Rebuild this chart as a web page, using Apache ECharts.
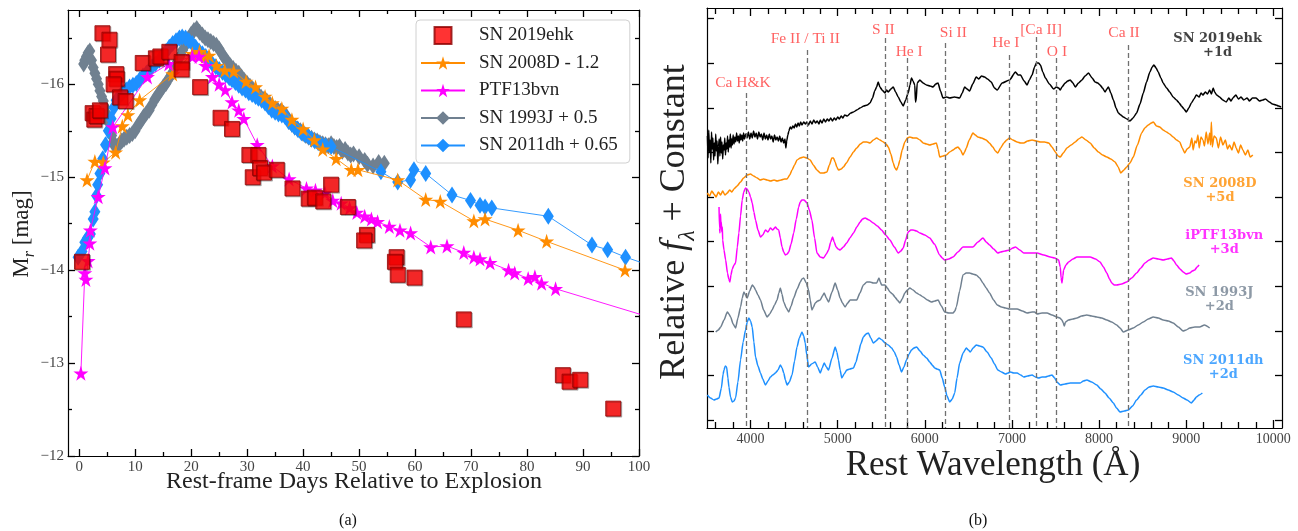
<!DOCTYPE html>
<html><head><meta charset="utf-8">
<script src="https://cdn.jsdelivr.net/npm/echarts@6/dist/echarts.min.js"></script>
<style>html,body{margin:0;padding:0;background:#fff}#c{width:1298px;height:531px}</style>
</head><body><div id="c"></div>
<script>
// ---------------- Panel (a): light curves (day, M_r) ----------------
const sn2019ehk = [[0.5,-14.09],[2.4,-15.69],[2.7,-15.62],[3.1,-15.66],[3.7,-15.72],[4.15,-16.55],[5.4,-16.48],[5.15,-16.32],[6.6,-16.11],[6.7,-16.06],[6.15,-16.0],[7.3,-15.86],[8.3,-15.82],[11.35,-16.23],[13.7,-16.28],[14.5,-16.3],[16.1,-16.35],[18.3,-16.24],[18.3,-16.16],[21.6,-15.97],[25.25,-15.64],[27.3,-15.52],[30.4,-15.24],[32,-15.24],[31,-15.0],[32.3,-15.1],[33,-15.05],[35.3,-15.08],[38.1,-14.88],[41,-14.77],[42.1,-14.78],[43.6,-14.74],[45,-14.92],[48,-14.68],[51.4,-14.38],[50.9,-14.32],[56.7,-14.14],[56.4,-14.09],[56.9,-13.95],[59.9,-13.92],[68.7,-13.47],[86.4,-12.87],[87.6,-12.8],[89.5,-12.82],[95.4,-12.51]];
const sn2008D = [[1.4,-14.97],[2.8,-15.17],[4.3,-15.16],[6.5,-15.27],[7.7,-15.55],[8.7,-15.67],[10.8,-15.83],[16.7,-16.11],[20.2,-16.33],[21.5,-16.35],[22.5,-16.3],[23.2,-16.31],[24.5,-16.2],[26,-16.15],[27.6,-16.14],[29.8,-16.03],[31.5,-15.97],[33.2,-15.87],[34.5,-15.8],[36.2,-15.74],[38,-15.62],[40,-15.52],[42,-15.4],[43.5,-15.3],[45.9,-15.2],[48.6,-15.08],[49.8,-15.08],[56.9,-14.97],[61.9,-14.76],[64.5,-14.74],[70.5,-14.53],[72.5,-14.55],[78.4,-14.43],[83.5,-14.31],[97.5,-14.0]];
const ptf13bvn = [[0.3,-12.89],[1.0,-13.97],[1.2,-13.9],[1.6,-14.1],[1.9,-14.29],[2.0,-14.43],[3.4,-14.79],[4.6,-15.1],[6.0,-15.54],[12.2,-16.08],[16,-16.22],[20.2,-16.3],[21.4,-16.3],[22.6,-16.2],[23.8,-16.08],[25,-16.0],[26.1,-15.94],[27.3,-15.81],[28.5,-15.72],[29.4,-15.63],[31.8,-15.35],[34.5,-15.12],[37.5,-14.98],[40.6,-14.88],[42.2,-14.86],[43.9,-14.83],[45.3,-14.75],[46.8,-14.72],[48.3,-14.67],[49.6,-14.62],[51,-14.58],[52.2,-14.55],[53.3,-14.52],[55.4,-14.47],[57.3,-14.43],[59.2,-14.4],[62.8,-14.25],[65.7,-14.26],[68.7,-14.19],[70.5,-14.14],[71.6,-14.12],[73.4,-14.08],[76.7,-14.0],[77.8,-13.97],[80.2,-13.91],[81.4,-13.93],[82.6,-13.86],[85.1,-13.8],[112,-13.31]];
const sn1993J = [[0.8,-16.22],[1.0,-16.26],[1.3,-16.3],[1.6,-16.34],[1.9,-16.36],[2.2,-16.26],[2.5,-16.18],[2.8,-16.12],[3.1,-16.06],[3.4,-16.0],[3.7,-15.93],[4.0,-15.87],[4.3,-15.82],[4.6,-15.75],[4.9,-15.68],[5.2,-15.6],[5.5,-15.52],[5.8,-15.45],[6.1,-15.38],[6.4,-15.33],[6.8,-15.33],[7.2,-15.36],[7.6,-15.39],[8.0,-15.41],[8.5,-15.43],[9.0,-15.45],[9.5,-15.47],[10,-15.5],[10.5,-15.56],[11,-15.6],[11.5,-15.65],[12,-15.69],[12.5,-15.72],[13,-15.78],[13.5,-15.84],[14,-15.88],[14.5,-15.93],[15,-15.97],[15.5,-16.01],[16,-16.06],[16.5,-16.11],[17,-16.17],[17.5,-16.24],[18,-16.3],[18.5,-16.37],[19,-16.43],[19.5,-16.49],[20,-16.54],[20.5,-16.58],[21,-16.6],[21.5,-16.56],[22,-16.53],[22.5,-16.5],[23,-16.48],[23.5,-16.46],[24,-16.44],[24.5,-16.42],[25,-16.38],[25.5,-16.33],[26,-16.28],[26.5,-16.24],[27,-16.2],[27.5,-16.17],[28,-16.14],[28.5,-16.12],[29,-16.08],[29.5,-16.04],[30,-16.01],[30.5,-15.98],[31,-15.95],[31.5,-15.92],[32,-15.89],[32.5,-15.86],[33,-15.84],[33.5,-15.82],[34,-15.79],[34.5,-15.76],[35,-15.74],[35.5,-15.72],[36,-15.71],[36.5,-15.69],[37,-15.66],[37.5,-15.6],[38,-15.57],[38.5,-15.54],[39,-15.52],[39.5,-15.5],[40,-15.47],[40.5,-15.45],[41,-15.43],[41.5,-15.42],[42,-15.4],[42.5,-15.39],[43,-15.37],[43.5,-15.36],[44,-15.35],[44.5,-15.34],[45,-15.36],[45.5,-15.33],[46,-15.32],[46.5,-15.33],[47,-15.28],[47.5,-15.3],[48,-15.26],[48.5,-15.24],[49,-15.25],[50,-15.22],[51,-15.18],[51.5,-15.14],[52.5,-15.12],[53.5,-15.16],[54.5,-15.15]];
const sn2011dh = [[-0.2,-14.14],[0.5,-14.2],[1.0,-14.3],[1.5,-14.35],[2.0,-14.39],[2.5,-14.55],[2.8,-14.63],[3.1,-14.8],[3.3,-14.92],[3.7,-15.04],[4.2,-15.2],[4.7,-15.35],[5.2,-15.5],[5.7,-15.63],[6.2,-15.75],[6.6,-15.83],[7.2,-15.87],[7.8,-15.91],[8.4,-15.94],[9,-15.97],[9.6,-15.99],[10.2,-16.01],[10.8,-16.05],[11.4,-16.09],[12,-16.12],[12.5,-16.15],[13,-16.19],[13.6,-16.22],[14.3,-16.26],[14.9,-16.31],[15.5,-16.35],[16.1,-16.4],[16.7,-16.44],[17.3,-16.47],[17.9,-16.5],[18.4,-16.51],[19,-16.5],[19.6,-16.47],[20.2,-16.44],[20.8,-16.4],[21.4,-16.36],[22,-16.33],[22.6,-16.3],[23.2,-16.26],[23.8,-16.22],[24.4,-16.19],[25,-16.16],[25.6,-16.13],[26.2,-16.1],[26.8,-16.07],[27.3,-16.05],[27.9,-16.02],[28.5,-15.99],[29.1,-15.96],[29.7,-15.94],[30.3,-15.91],[30.9,-15.89],[31.5,-15.87],[32,-15.85],[32.6,-15.83],[33.2,-15.8],[33.8,-15.76],[34.4,-15.72],[35,-15.7],[35.6,-15.68],[36.2,-15.67],[36.8,-15.65],[37.4,-15.6],[38,-15.57],[38.5,-15.54],[39.1,-15.51],[39.7,-15.48],[40.3,-15.46],[40.9,-15.44],[41.5,-15.41],[42.1,-15.39],[42.7,-15.37],[43.3,-15.35],[44,-15.34],[45,-15.33],[53.9,-15.06],[56.9,-14.95],[59.2,-14.97],[59.8,-15.08],[61.9,-15.04],[66.6,-14.81],[69.9,-14.75],[71.6,-14.7],[72.5,-14.68],[73.7,-14.67],[83.8,-14.58],[91.6,-14.27],[94.4,-14.22],[97.6,-14.14],[101.5,-14.06]];

// ---------------- Panel (b): spectra (wavelength in Å, relative flux + constant) ----------------
const spec2019ehk = [[3505,292],[3512,270],[3520,298],[3528,276],[3536,288],[3544,265],[3552,296],[3560,279],[3568,290],[3576,268],[3584,285],[3592,272],[3600,294],[3608,277],[3616,287],[3624,264],[3632,281],[3640,289],[3648,272],[3656,291],[3664,275],[3672,286],[3680,269],[3688,283],[3696,278],[3704,290],[3712,273],[3720,285],[3728,279],[3736,292],[3744,276],[3752,288],[3760,281],[3768,294],[3776,280],[3784,289],[3792,283],[3800,293],[3810,284],[3820,291],[3830,286],[3840,295],[3850,287],[3860,292],[3870,285],[3880,294],[3890,288],[3900,293],[3910,287],[3920,295],[3930,289],[3945,294],[3960,290],[3975,296],[3990,289],[4005,295],[4020,290],[4035,297],[4050,291],[4065,295],[4080,289],[4095,296],[4110,291],[4125,294],[4140,288],[4155,295],[4170,289],[4185,293],[4200,288],[4215,294],[4230,289],[4245,292],[4260,286],[4275,293],[4290,288],[4305,291],[4320,287],[4335,292],[4350,286],[4365,290],[4380,285],[4395,289],[4405,280],[4415,287],[4428,293],[4440,297],[4455,301],[4470,299],[4485,302],[4500,300],[4515,304],[4530,301],[4545,305],[4560,302],[4575,306],[4590,303],[4610,306],[4630,304],[4647,306],[4665,303],[4685,307],[4705,304],[4725,308],[4745,305],[4765,307],[4785,304],[4800,308],[4820,305],[4840,309],[4860,306],[4880,309],[4900,307],[4920,310],[4940,307],[4960,310],[4980,308],[5000,311],[5020,309],[5040,312],[5060,310],[5080,313],[5110,312],[5150,315],[5181,316],[5220,318],[5257,320],[5300,322],[5340,323],[5371,325],[5400,330],[5425,337],[5447,341],[5465,346],[5485,341],[5510,338],[5543,335],[5560,338],[5581,336],[5610,339],[5638,341],[5665,336],[5695,331],[5725,326],[5752,322],[5780,328],[5809,335],[5830,343],[5847,350],[5865,347],[5885,343],[5893,326],[5900,327],[5913,345],[5943,348],[5980,345],[6019,343],[6060,342],[6095,341],[6125,344],[6152,345],[6180,337],[6209,330],[6250,331],[6286,330],[6340,331],[6400,330],[6430,335],[6457,341],[6485,339],[6514,337],[6550,344],[6590,351],[6620,349],[6650,352],[6686,351],[6720,349],[6762,346],[6800,340],[6831,338],[6888,345],[6972,348],[7041,356],[7070,353],[7098,353],[7140,347],[7174,343],[7200,348],[7231,353],[7260,361],[7281,365],[7305,365],[7327,363],[7355,356],[7384,350],[7430,344],[7479,339],[7510,341],[7536,340],[7555,338],[7574,341],[7612,345],[7640,347],[7669,348],[7700,345],[7727,341],[7765,345],[7803,348],[7840,352],[7879,355],[7920,350],[7955,346],[7985,345],[8012,343],[8040,340],[8069,336],[8090,339],[8108,341],[8135,335],[8165,328],[8195,320],[8222,315],[8250,313],[8279,311],[8320,309],[8355,307],[8390,310],[8431,315],[8470,324],[8508,335],[8545,346],[8584,356],[8610,361],[8630,363],[8655,360],[8679,356],[8710,350],[8736,345],[8775,340],[8812,336],[8850,331],[8889,328],[8920,325],[8946,322],[8975,319],[9003,316],[9030,320],[9060,325],[9090,329],[9117,333],[9150,331],[9170,335],[9193,333],[9220,336],[9245,334],[9270,338],[9290,334],[9310,340],[9327,336],[9350,333],[9384,331],[9420,328],[9460,326],[9490,330],[9515,327],[9536,330],[9570,333],[9600,329],[9630,331],[9660,328],[9700,330],[9727,327],[9760,330],[9803,330],[9840,327],[9879,328],[9910,329],[9955,326],[9990,324],[10032,323],[10060,322],[10089,321]];
const spec2008D = [[3504,235],[3530,232],[3555,237],[3580,234],[3605,231],[3630,236],[3657,233],[3680,237],[3705,233],[3733,235],[3760,238],[3785,236],[3809,239],[3845,242],[3885,246],[3920,250],[3961,253],[3999,254],[4035,252],[4076,250],[4110,248],[4150,249],[4190,248],[4230,247],[4270,248],[4304,247],[4350,248],[4390,249],[4419,249],[4450,253],[4476,258],[4505,263],[4533,268],[4570,270],[4609,271],[4645,270],[4685,268],[4720,263],[4762,258],[4800,255],[4838,255],[4876,256],[4905,263],[4933,270],[4952,270],[4971,266],[4990,261],[5009,258],[5040,259],[5066,261],[5100,265],[5143,271],[5180,276],[5219,280],[5260,284],[5295,286],[5335,286],[5371,285],[5410,288],[5447,290],[5485,288],[5524,286],[5555,284],[5581,281],[5610,274],[5638,265],[5657,260],[5676,258],[5695,262],[5714,268],[5740,278],[5771,286],[5800,290],[5828,291],[5866,290],[5905,290],[5945,288],[5981,285],[6020,284],[6057,283],[6095,284],[6133,285],[6152,279],[6171,271],[6209,272],[6247,273],[6286,276],[6324,278],[6355,280],[6381,281],[6410,278],[6438,273],[6457,276],[6476,280],[6510,288],[6552,295],[6580,293],[6609,291],[6650,290],[6705,288],[6740,285],[6781,281],[6810,277],[6838,275],[6870,280],[6907,285],[6940,288],[6972,290],[7010,288],[7060,286],[7100,285],[7136,285],[7180,287],[7231,288],[7280,287],[7327,286],[7375,286],[7422,285],[7460,281],[7498,276],[7530,272],[7555,271],[7590,275],[7631,280],[7680,283],[7727,286],[7765,289],[7803,291],[7850,288],[7898,285],[7945,280],[7993,276],[8040,273],[8089,271],[8135,269],[8184,266],[8220,261],[8249,255],[8285,258],[8317,261],[8355,265],[8393,271],[8440,283],[8489,295],[8525,300],[8565,303],[8600,305],[8622,306],[8660,302],[8698,301],[8735,298],[8774,296],[8810,294],[8851,291],[8890,288],[8927,286],[8955,280],[8984,275],[9010,279],[9041,281],[9065,290],[9080,278],[9100,287],[9117,285],[9135,293],[9150,280],[9170,291],[9193,288],[9210,282],[9230,296],[9250,284],[9270,295],[9280,283],[9289,306],[9300,281],[9320,292],[9346,290],[9370,280],[9395,291],[9422,283],[9450,288],[9475,279],[9498,283],[9525,278],[9550,286],[9574,280],[9600,275],[9625,283],[9651,278],[9680,273],[9708,278],[9735,271],[9765,273]];
const specPTF13bvn = [[3638,221],[3644,200],[3649,195],[3655,214],[3660,203],[3664,206],[3670,196],[3676,201],[3680,188],[3695,178],[3714,168],[3735,155],[3750,149],[3763,146],[3775,153],[3790,159],[3810,163],[3828,165],[3848,181],[3866,195],[3885,212],[3904,228],[3922,236],[3942,240],[3960,239],[3980,236],[4000,231],[4019,225],[4038,216],[4057,208],[4085,198],[4114,191],[4140,193],[4171,198],[4200,196],[4228,200],[4255,198],[4285,201],[4305,199],[4323,198],[4342,190],[4361,181],[4380,176],[4400,173],[4420,174],[4438,176],[4465,184],[4495,195],[4525,209],[4552,221],[4570,226],[4590,228],[4615,228],[4647,225],[4675,218],[4704,208],[4735,190],[4762,175],[4800,171],[4838,170],[4870,174],[4895,178],[4920,186],[4941,191],[4960,186],[4982,181],[5005,179],[5028,178],[5065,181],[5104,185],[5140,190],[5181,195],[5220,201],[5257,206],[5285,209],[5314,210],[5360,208],[5409,205],[5455,202],[5504,198],[5550,193],[5600,188],[5650,181],[5695,175],[5725,177],[5752,180],[5780,188],[5809,196],[5840,198],[5866,198],[5905,197],[5943,195],[6000,193],[6057,190],[6110,184],[6171,173],[6200,170],[6228,168],[6275,169],[6324,171],[6380,176],[6438,181],[6495,181],[6552,181],[6610,186],[6667,190],[6705,186],[6743,183],[6790,179],[6838,175],[6870,176],[6920,177],[6972,178],[7010,180],[7041,181],[7090,178],[7136,175],[7210,175],[7288,175],[7365,173],[7441,171],[7490,170],[7536,168],[7555,161],[7565,150],[7574,145],[7585,152],[7593,158],[7620,163],[7650,166],[7700,169],[7746,171],[7820,171],[7898,171],[7960,169],[8012,166],[8050,161],[8089,155],[8120,149],[8146,145],[8175,143],[8203,143],[8260,144],[8317,146],[8375,150],[8431,155],[8480,160],[8527,165],[8575,168],[8622,170],[8680,169],[8736,168],[8785,169],[8831,170],[8860,167],[8889,163],[8930,159],[8965,156],[9000,154],[9041,155],[9070,157],[9098,158],[9125,161],[9148,163]];
const spec1993J = [[3600,96],[3630,98],[3657,101],[3695,108],[3733,116],[3752,114],[3771,111],[3800,104],[3828,100],[3855,110],[3885,121],[3905,130],[3923,136],[3942,133],[3961,130],[3990,137],[4019,143],[4040,141],[4057,138],[4085,133],[4114,128],[4150,118],[4190,111],[4220,114],[4247,118],[4275,123],[4304,128],[4325,135],[4342,140],[4360,134],[4381,126],[4410,120],[4438,116],[4465,122],[4495,130],[4535,139],[4571,146],[4590,149],[4609,150],[4640,145],[4666,138],[4685,128],[4704,118],[4722,121],[4742,125],[4770,127],[4800,128],[4825,132],[4845,135],[4870,130],[4895,126],[4935,136],[4971,145],[5000,138],[5028,130],[5055,125],[5085,121],[5115,125],[5143,128],[5180,128],[5219,128],[5255,135],[5295,143],[5335,146],[5371,146],[5410,145],[5447,145],[5474,150],[5490,146],[5504,143],[5543,143],[5570,140],[5600,136],[5630,134],[5657,131],[5685,128],[5714,125],[5740,129],[5771,135],[5800,138],[5828,140],[5865,138],[5905,135],[5945,133],[5981,131],[6030,128],[6076,126],[6115,127],[6152,128],[6190,122],[6228,116],[6275,115],[6324,115],[6345,117],[6362,121],[6400,137],[6438,153],[6475,155],[6514,155],[6550,154],[6590,153],[6630,150],[6667,145],[6705,140],[6743,135],[6790,128],[6831,123],[6880,121],[6926,120],[6972,119],[7015,119],[7060,119],[7120,117],[7174,115],[7231,116],[7260,116],[7288,114],[7345,115],[7403,115],[7460,113],[7517,111],[7550,110],[7574,108],[7590,105],[7601,102],[7615,106],[7650,108],[7700,109],[7746,110],[7800,112],[7860,113],[7915,112],[7974,111],[8030,110],[8089,108],[8145,106],[8203,103],[8240,100],[8279,96],[8335,98],[8393,100],[8450,103],[8508,106],[8565,109],[8622,111],[8680,110],[8736,108],[8795,107],[8851,105],[8910,101],[8965,97],[9000,98],[9041,100],[9100,101],[9155,101],[9210,103],[9270,100]];
const spec2011dh = [[3504,33],[3540,30],[3580,28],[3610,29],[3638,30],[3665,40],[3685,54],[3695,58],[3710,62],[3725,61],[3740,50],[3752,41],[3770,31],[3790,26],[3810,27],[3828,30],[3855,46],[3885,68],[3915,86],[3942,98],[3962,106],[3980,110],[4000,107],[4019,101],[4038,86],[4057,71],[4085,62],[4114,55],[4140,49],[4171,43],[4200,47],[4228,51],[4255,53],[4285,55],[4315,58],[4342,63],[4362,60],[4381,55],[4400,48],[4419,43],[4445,46],[4476,53],[4505,67],[4533,81],[4560,90],[4590,96],[4610,92],[4628,85],[4645,73],[4666,61],[4700,64],[4742,66],[4770,61],[4800,55],[4822,60],[4845,65],[4870,61],[4895,58],[4935,70],[4971,81],[4990,76],[5009,68],[5028,58],[5047,50],[5075,54],[5104,58],[5140,59],[5181,60],[5210,66],[5238,75],[5265,84],[5295,91],[5325,94],[5352,95],[5380,90],[5409,85],[5440,87],[5474,90],[5510,88],[5543,85],[5580,83],[5619,80],[5650,76],[5676,71],[5705,63],[5733,56],[5760,61],[5790,68],[5820,74],[5847,78],[5875,80],[5905,81],[5945,77],[5981,73],[6020,70],[6057,66],[6085,63],[6114,60],[6140,59],[6171,58],[6200,50],[6228,41],[6255,32],[6286,26],[6315,29],[6343,35],[6370,50],[6400,65],[6440,75],[6476,80],[6500,78],[6522,76],[6555,80],[6590,83],[6630,82],[6667,81],[6715,76],[6762,70],[6800,64],[6838,58],[6880,56],[6926,54],[6955,55],[6984,56],[7020,55],[7060,55],[7100,53],[7136,51],[7180,52],[7231,53],[7270,51],[7307,50],[7345,51],[7384,51],[7420,52],[7460,53],[7490,50],[7517,46],[7555,43],[7610,44],[7669,45],[7725,45],[7784,45],[7820,47],[7860,48],[7915,46],[7974,43],[8020,39],[8069,35],[8115,30],[8165,25],[8200,20],[8241,16],[8290,17],[8336,18],[8385,22],[8431,28],[8480,33],[8527,38],[8575,41],[8622,42],[8680,41],[8736,40],[8795,38],[8851,36],[8910,33],[8965,30],[9010,28],[9060,25],[9090,28],[9117,31],[9150,33],[9186,35]];

// Line identifications: name, rest wavelength (Å)
const lineNames = ['Ca H&K','Fe II / Ti II','S II','He I','Si II','He I','[Ca II]','O I','Ca II'];
const lineWaves = [3951,4648,5543,5794,6237,6966,7274,7514,8335];
// spectrum labels
const specLabels = ['SN 2019ehk\n+1d','SN 2008D\n+5d','iPTF13bvn\n+3d','SN 1993J\n+2d','SN 2011dh\n+2d'];

// Tick values / labels
const aXTicks = [0,10,20,30,40,50,60,70,80,90,100];
const aXMinor = [5,15,25,35,45,55,65,75,85,95];
const aYTicks = [-16,-15,-14,-13,-12];
const aYMinor = [-16.5,-15.5,-14.5,-13.5,-12.5];
const bXTicks = [4000,5000,6000,7000,8000,9000,10000];
const bXMinor = [3600,3800,4200,4400,4600,4800,5200,5400,5600,5800,6200,6400,6600,6800,7200,7400,7600,7800,8200,8400,8600,8800,9200,9400,9600,9800];
const bYTicks = [8,52.6,97.2,141.8,186.4,231,275.6,320.2,364.8,409.4];

// ---------------- layout / style ----------------
const SERIF = '"Liberation Serif","Times New Roman",serif';
const BOLD = '"DejaVu Serif",serif';
const STAR = 'path://M50,0L61.2,34.5L97.6,34.5L68.2,55.9L79.4,90.5L50,69.1L20.6,90.5L31.8,55.9L2.4,34.5L38.8,34.5Z';
const SQUARE = 'path://M0,0L10,0L10,10L0,10Z';
const C = {ehk:'#ff0000', d08:'#ff8c00', ptf:'#ff00ff', j93:'#708090', dh:'#1e90ff'};
const lineTops = [335,378,390,370,385,373,391,370,383];
const lineLabelPos = [[3912,345],[4628,389],[5524,398],[5821,376],[6328,395],[6930,385],[7334,398],[7517,376],[8287,395]];
const specLabelPos = [[9361,382],[9388,237],[9437,185],[9380,128],[9426,60]];
const specLabelColors = ['#111', C.d08, C.ptf, C.j93, C.dh];

function ax(grid, pos, min, max, ticks, len, withLine, labels, extra) {
  return Object.assign({
    type: 'value', gridIndex: grid, position: pos, min: min, max: max,
    axisLine: {show: withLine, onZero: false, lineStyle: {color: '#000', width: 1.2}},
    axisTick: {show: ticks.length > 0, inside: true, length: len, customValues: ticks, lineStyle: {color: '#000', width: 1.3}},
    axisLabel: labels ? Object.assign({show: true, customValues: ticks}, labels) : {show: false},
    splitLine: {show: false}, minorTick: {show: false}
  }, extra || {});
}
const minusFmt = v => (v < 0 ? '\u2212' : '') + Math.abs(v);
const plainFmt = v => String(v);
const xLabA = {color: '#444', fontFamily: SERIF, fontSize: 15, margin: 4, formatter: plainFmt};
const yLabA = {color: '#444', fontFamily: SERIF, fontSize: 15, margin: 4, formatter: minusFmt};
const xLabB = {color: '#444', fontFamily: SERIF, fontSize: 14, margin: 4, formatter: plainFmt};

const xAxis = [
  ax(0, 'bottom', -2, 100, aXTicks, 7, true, xLabA),
  ax(0, 'bottom', -2, 100, aXMinor, 4, false, null),
  ax(0, 'top', -2, 100, aXTicks, 7, true, null),
  ax(0, 'top', -2, 100, aXMinor, 4, false, null),
  ax(1, 'bottom', 3500, 10100, bXTicks, 8, true, xLabB),
  ax(1, 'bottom', 3500, 10100, bXMinor, 6, false, null),
  ax(1, 'top', 3500, 10100, bXTicks, 8, true, null),
  ax(1, 'top', 3500, 10100, bXMinor, 6, false, null)
];
const yAxis = [
  ax(0, 'left', -16.8, -12, aYTicks, 7, true, yLabA, {inverse: true}),
  ax(0, 'left', -16.8, -12, aYMinor, 4, false, null, {inverse: true}),
  ax(0, 'right', -16.8, -12, aYTicks, 7, true, null, {inverse: true}),
  ax(0, 'right', -16.8, -12, aYMinor, 4, false, null, {inverse: true}),
  ax(1, 'left', 0, 420, bYTicks, 7, true, null),
  ax(1, 'left', 0, 420, [], 0, false, null),
  ax(1, 'right', 0, 420, bYTicks, 7, true, null),
  ax(1, 'right', 0, 420, [], 0, false, null)
];

function lc(name, data, color, symbol, size, z) {
  return {name: name, type: 'line', xAxisIndex: 0, yAxisIndex: 0, data: data, z: z,
    symbol: symbol, symbolSize: size, showSymbol: true,
    itemStyle: {color: color}, lineStyle: {color: color, width: 0.9}};
}
function spec(name, data, color) {
  return {name: name, type: 'line', xAxisIndex: 4, yAxisIndex: 4, data: data, showSymbol: false,
    smooth: 0.2, smoothMonotone: 'x', lineStyle: {color: color, width: 1.5}, itemStyle: {color: color}, z: 3};
}

const series = [
  lc('SN 1993J + 0.5', sn1993J, C.j93, 'diamond', [11, 17], 2),
  lc('SN 2011dh + 0.65', sn2011dh, C.dh, 'diamond', [11, 17], 3),
  lc('SN 2008D - 1.2', sn2008D, C.d08, STAR, 15, 4),
  lc('PTF13bvn', ptf13bvn, C.ptf, STAR, 15, 5),
  {name: 'SN 2019ehk', type: 'scatter', xAxisIndex: 0, yAxisIndex: 0, data: sn2019ehk, z: 6,
    symbol: 'rect', symbolSize: 15,
    itemStyle: {color: C.ehk, borderColor: '#8b0000', borderWidth: 1, shadowColor: 'rgba(0,0,0,0.3)', shadowOffsetX: 1, shadowOffsetY: 1}},
  spec('spec SN 2019ehk', spec2019ehk, '#000'),
  spec('spec SN 2008D', spec2008D, C.d08),
  spec('spec iPTF13bvn', specPTF13bvn, C.ptf),
  spec('spec SN 1993J', spec1993J, C.j93),
  spec('spec SN 2011dh', spec2011dh, C.dh),
  {name: 'line ids', type: 'scatter', xAxisIndex: 4, yAxisIndex: 4, symbolSize: 1, z: 5,
    itemStyle: {color: 'rgba(0,0,0,0)'},
    data: lineNames.map((n, i) => ({name: n, value: lineLabelPos[i]})),
    label: {show: true, position: 'inside', formatter: '{b}', color: '#ff3a3a', fontFamily: SERIF, fontSize: 15.5},
    markLine: {silent: true, symbol: ['none', 'none'], animation: false, label: {show: false},
      lineStyle: {type: [5, 3], color: '#707070', width: 1.3},
      data: lineWaves.map((w, i) => [{coord: [w, lineTops[i]]}, {coord: [w, 0]}])}},
  {name: 'spec labels', type: 'scatter', xAxisIndex: 4, yAxisIndex: 4, symbolSize: 1, z: 5,
    itemStyle: {color: 'rgba(0,0,0,0)'},
    data: specLabels.map((n, i) => ({name: n, value: specLabelPos[i], label: {color: specLabelColors[i]}})),
    label: {show: true, position: 'inside', formatter: '{b}', fontFamily: BOLD, fontWeight: 'bold', fontSize: 13, lineHeight: 14, align: 'center'}}
];

const rich = (size) => ({
  m: {fontFamily: SERIF, fontSize: size, lineHeight: size, verticalAlign: 'top', fill: '#222'},
  i: {fontFamily: SERIF, fontSize: size, lineHeight: size, fontStyle: 'italic', verticalAlign: 'top', fill: '#222'},
  s: {fontFamily: SERIF, fontSize: Math.round(size * 0.68), lineHeight: Math.round(size * 1.2), fontStyle: 'italic', verticalAlign: 'bottom', fill: '#222'}
});

const option = {
  animation: false,
  backgroundColor: '#fff',
  grid: [
    {left: 68, top: 10, width: 571, height: 446},
    {left: 707, top: 8, width: 575, height: 420}
  ],
  xAxis: xAxis, yAxis: yAxis, series: series,
  legend: {
    show: true, orient: 'vertical', left: 416, top: 20, selectedMode: false,
    data: [{name: 'SN 2019ehk', icon: SQUARE}, 'SN 2008D - 1.2', 'PTF13bvn', 'SN 1993J + 0.5', 'SN 2011dh + 0.65'],
    itemWidth: 44, itemHeight: 17, itemGap: 8.5,
    textStyle: {fontFamily: SERIF, fontSize: 19, color: '#222', padding: [0, 0, 0, 9]},
    padding: [6, 12, 8, 4], borderColor: '#d0d0d0', borderWidth: 1, borderRadius: 4,
    backgroundColor: 'rgba(255,255,255,0.85)'
  },
  graphic: [
    {type: 'text', x: 24, y: 234, rotation: Math.PI / 2, style: {text: '{m|M}{s|r}{m| [mag]}', rich: rich(23), textAlign: 'center', textVerticalAlign: 'middle'}},
    {type: 'text', x: 354, y: 482, style: {text: 'Rest-frame Days Relative to Explosion', font: '24px ' + SERIF, fill: '#222', textAlign: 'center', textVerticalAlign: 'middle'}},
    {type: 'text', x: 678, y: 222, rotation: Math.PI / 2, style: {text: '{m|Relative }{i|f}{s|\u03bb}{m| + Constant}', rich: rich(36), textAlign: 'center', textVerticalAlign: 'middle'}},
    {type: 'text', x: 993, y: 466, style: {text: 'Rest Wavelength (\u00c5)', font: '35px ' + SERIF, fill: '#222', textAlign: 'center', textVerticalAlign: 'middle'}},
    {type: 'text', x: 348, y: 521, style: {text: '(a)', font: '16px ' + SERIF, fill: '#111', textAlign: 'center', textVerticalAlign: 'middle'}},
    {type: 'text', x: 978, y: 521, style: {text: '(b)', font: '16px ' + SERIF, fill: '#111', textAlign: 'center', textVerticalAlign: 'middle'}}
  ]
};
const chart = echarts.init(document.getElementById('c'), null, {renderer: 'canvas', width: 1298, height: 531});
chart.setOption(option);
</script></body></html>
